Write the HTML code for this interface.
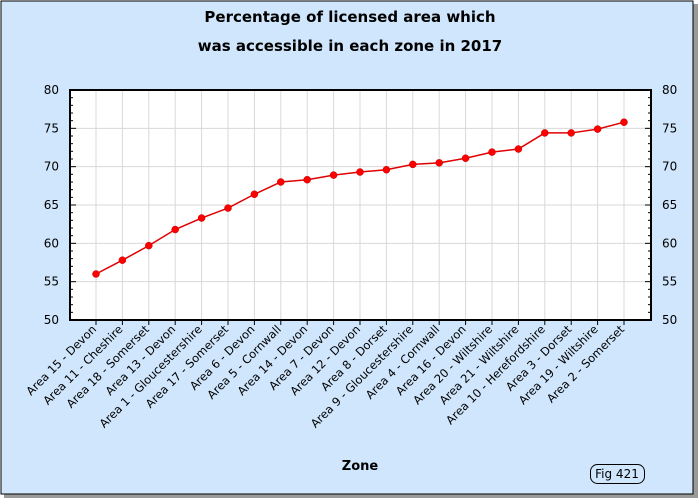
<!DOCTYPE html>
<html><head><style>body{margin:0;background:#fff}svg{display:block}text{font-family:"DejaVu Sans","Liberation Sans",sans-serif}</style></head>
<body>
<svg width="700" height="500" xmlns="http://www.w3.org/2000/svg">
<rect x="0" y="0" width="700" height="500" fill="#ffffff"/>
<rect x="4" y="4" width="694" height="494" fill="#9a9a9a"/>
<rect x="1" y="1" width="692" height="493" fill="#d0e6fc" stroke="#000" stroke-width="1"/>
<text x="350" y="22" text-anchor="middle" font-size="15" font-weight="bold">Percentage of licensed area which</text>
<text x="350" y="51" text-anchor="middle" font-size="15" font-weight="bold">was accessible in each zone in 2017</text>
<rect x="70" y="90" width="581" height="230" fill="#fff"/>
<g id="grid" stroke="#d8d8d8" stroke-width="1"></g>
<rect x="70" y="90" width="581" height="230" fill="none" stroke="#000" stroke-width="2"/>
<g id="ticks" stroke="#000" stroke-width="1"></g>
<g id="labels" font-size="12"></g>
<polyline id="line" fill="none" stroke="#e00000" stroke-width="1.5"/>
<g id="pts" fill="#ff0000" stroke="#c00000" stroke-width="0.5"></g>
<text x="360" y="470" text-anchor="middle" font-size="13" font-weight="bold">Zone</text>
<rect x="590.5" y="464.5" width="54" height="19" rx="7" fill="none" stroke="#000"/>
<text x="617" y="478" text-anchor="middle" font-size="12">Fig 421</text>
</svg>
<script>
var names=["Area 15 - Devon","Area 11 - Cheshire","Area 18 - Somerset","Area 13 - Devon","Area 1 - Gloucestershire","Area 17 - Somerset","Area 6 - Devon","Area 5 - Cornwall","Area 14 - Devon","Area 7 - Devon","Area 12 - Devon","Area 8 - Dorset","Area 9 - Gloucestershire","Area 4 - Cornwall","Area 16 - Devon","Area 20 - Wiltshire","Area 21 - Wiltshire","Area 10 - Herefordshire","Area 3 - Dorset","Area 19 - Wiltshire","Area 2 - Somerset"];
var vals=[56.0,57.8,59.7,61.8,63.3,64.6,66.4,68.0,68.3,68.9,69.3,69.6,70.3,70.5,71.1,71.9,72.3,74.4,74.4,74.9,75.8];
var NS="http://www.w3.org/2000/svg";
function el(t,a,p,txt){var e=document.createElementNS(NS,t);for(var k in a)e.setAttribute(k,a[k]);if(txt!=null)e.textContent=txt;document.getElementById(p).appendChild(e);return e;}
function X(i){return 96+i*26.4;}function Y(v){return 90+(80-v)*230/30;}
for(var i=0;i<21;i++){var x=X(i);el("line",{x1:x,y1:90,x2:x,y2:320},"grid");el("line",{x1:x,y1:320,x2:x,y2:325},"ticks");
var lx=x+1,ly=330;
el("text",{x:lx,y:ly,"text-anchor":"end","font-size":"11.5",transform:"rotate(-45 "+lx+" "+ly+")"},"labels",names[i]);}
for(var v=50;v<=80;v++){var y=Y(v);if(v%5==0){if(v>50&&v<80)el("line",{x1:70,y1:y,x2:651,y2:y},"grid");
el("line",{x1:70,y1:y,x2:76,y2:y},"ticks");el("line",{x1:645,y1:y,x2:651,y2:y},"ticks");
el("text",{x:59,y:y+4,"text-anchor":"end"},"labels",v);el("text",{x:662,y:y+4},"labels",v);}
else{el("line",{x1:70,y1:y,x2:73,y2:y},"ticks");el("line",{x1:648,y1:y,x2:651,y2:y},"ticks");}}
var pts=vals.map(function(v,i){return X(i)+","+Y(v);}).join(" ");document.getElementById("line").setAttribute("points",pts);
vals.forEach(function(v,i){el("circle",{cx:X(i),cy:Y(v),r:3.5},"pts");});
</script>
</body></html>
